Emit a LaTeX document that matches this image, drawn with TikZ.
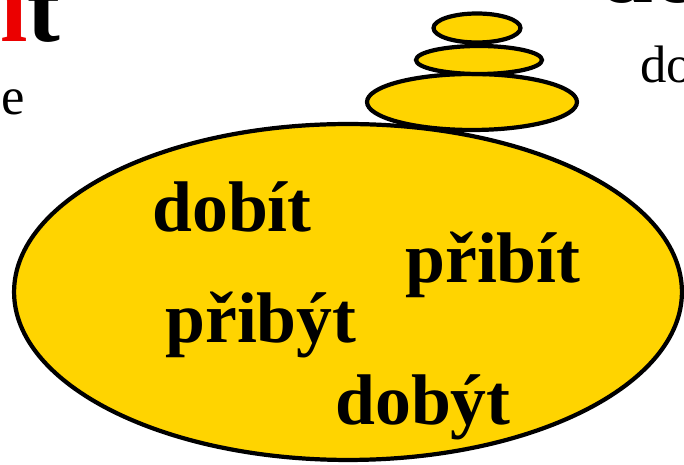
\documentclass[tikz,border=0pt]{standalone}
\usepackage{fontspec}
\setmainfont{Liberation Serif}
\usetikzlibrary{shapes.geometric,positioning}
\definecolor{stoneyellow}{RGB}{255,212,0}
\definecolor{titlered}{RGB}{235,0,0}

\tikzset{
  stone/.style={ellipse, draw=black, line width=2.4pt, fill=stoneyellow, inner sep=0pt},
  word/.style={font=\bfseries\fontsize{40.8}{44}\selectfont, inner sep=0pt, anchor=base west},
  title/.style={font=\bfseries\fontsize{56}{60}\selectfont, inner sep=0pt, anchor=base west},
  small/.style={font=\fontsize{30}{34}\selectfont, inner sep=0pt, anchor=base west},
}

\begin{document}
\begin{tikzpicture}[x=0.02cm, y=-0.02cm]
    % Page frame (pixel units)
    \useasboundingbox (0,0) rectangle (684,465);

    % Big stone
    \node[stone, minimum width=13.36cm, minimum height=6.72cm] (bigstone) at (348,292) {};

    % Stack of small stones on top
    \node[stone, minimum width=4.2cm, minimum height=1.12cm] (stoneA) at (472,102) {};
    \node[stone, minimum width=2.52cm, minimum height=0.56cm] (stoneB) at (479,60) {};
    \node[stone, minimum width=1.74cm, minimum height=0.58cm] (stoneC) at (477,28) {};

    % Words on the big stone
    \node[word] (dobit) at (152,232) {dobít};
    \node[word] (pribit) at (405,283) {přibít};
    \node[word] (pribyt) at (165,343) {přibýt};
    \node[word] (dobyt) at (335,425) {dobýt};

    % Cut-off texts at the edges
    \node[title] (titleL) at (0,42) {\textcolor{titlered}{í}t};
    \node[small] (smallL) at (1,115) {e};
    \node[title] (titleR) at (598,3) {do};
    \node[small] (smallR) at (640,83) {do};
\end{tikzpicture}
\end{document}
